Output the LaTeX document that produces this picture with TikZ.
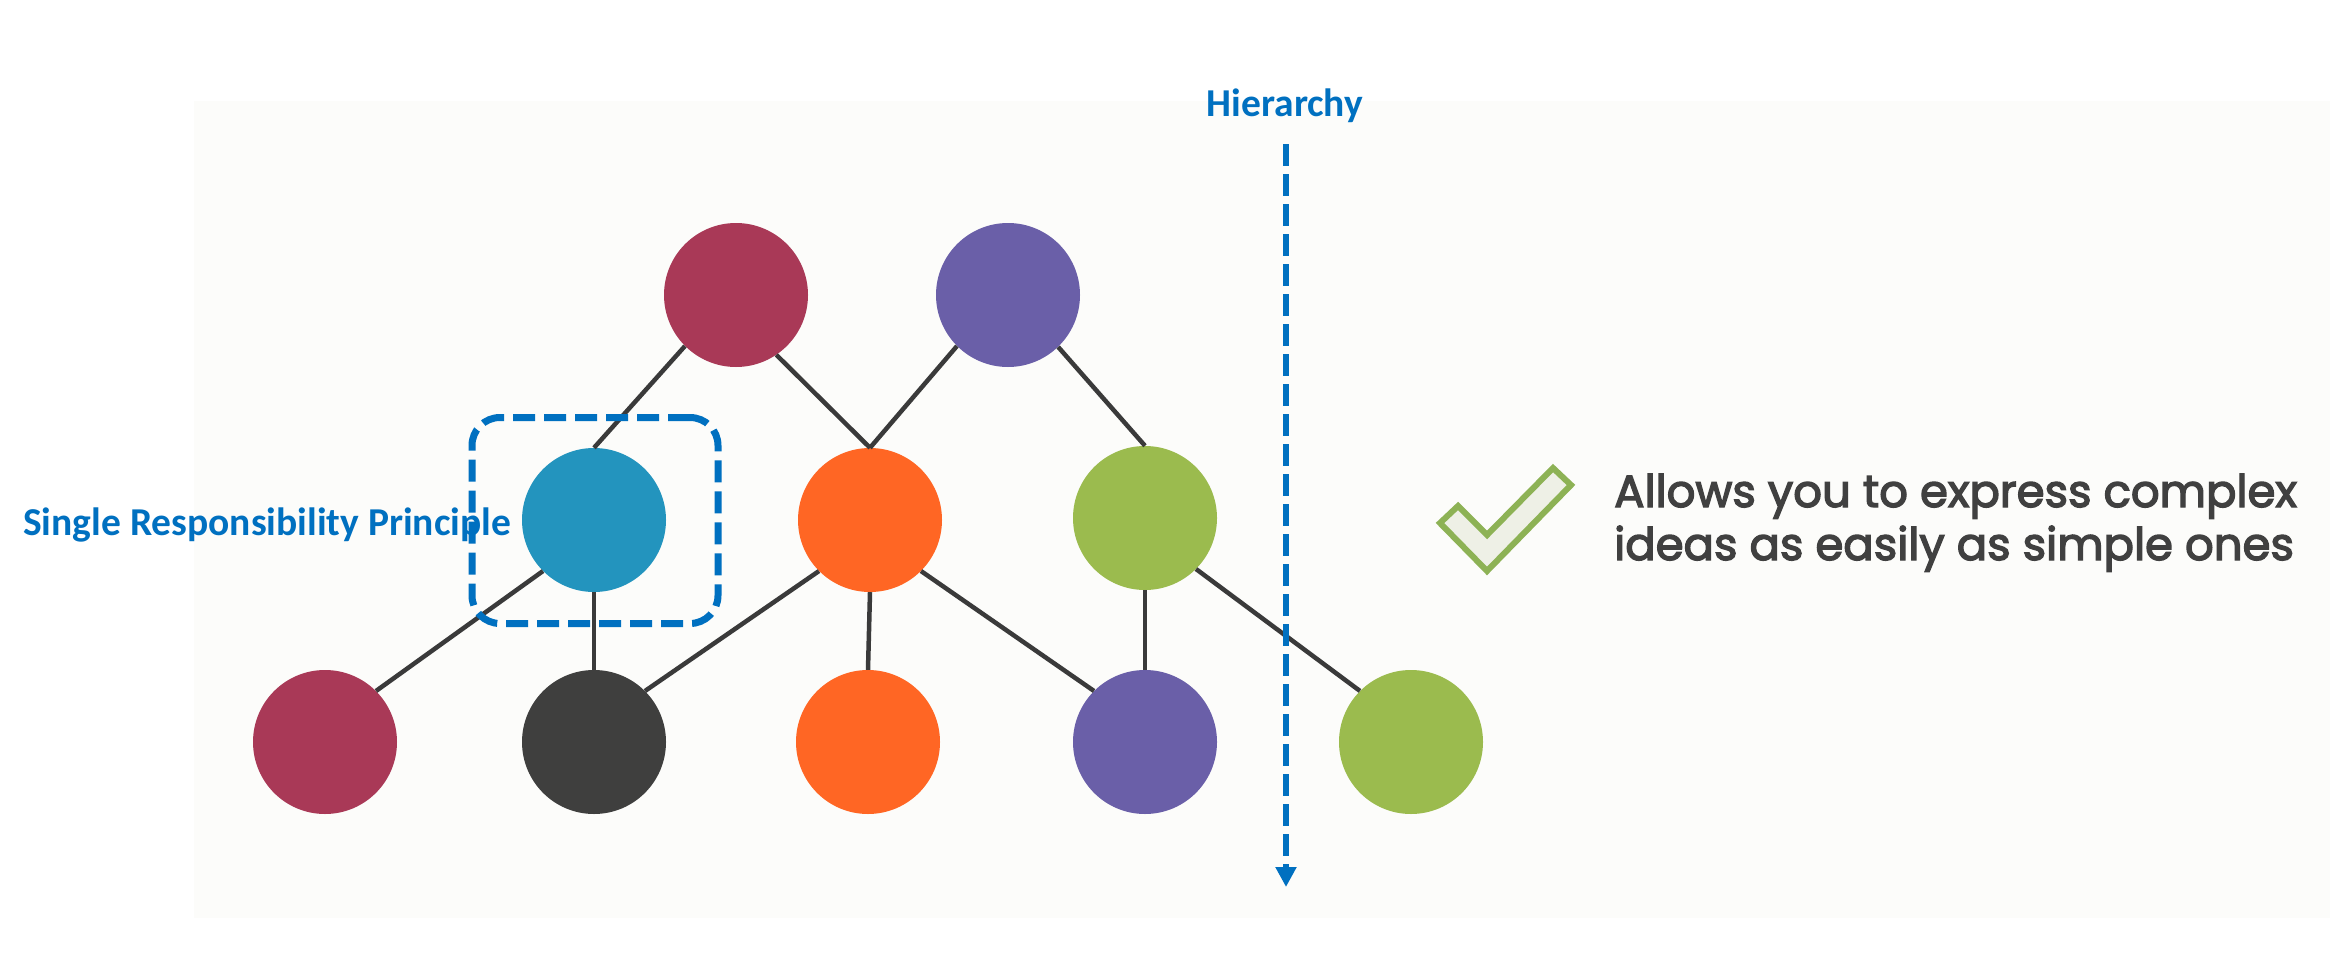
\documentclass[tikz,border=0pt]{standalone}
\usepackage{fontspec}
\newfontfamily\carlito{Carlito}
\newfontfamily\popfont{Poppins}[FakeBold=3]
\usetikzlibrary{arrows.meta}
\definecolor{bgc}{HTML}{FCFCFA}
\definecolor{cmaroon}{HTML}{A93957}
\definecolor{cpurple}{HTML}{6A5FA8}
\definecolor{cblue}{HTML}{2394BE}
\definecolor{corange}{HTML}{FF6624}
\definecolor{cgreen}{HTML}{9BBB4E}
\definecolor{cdark}{HTML}{3F3F3E}
\definecolor{linec}{HTML}{3A3A3A}
\definecolor{accent}{HTML}{0070C0}
\definecolor{chkc}{HTML}{8DB255}
\definecolor{chkf}{HTML}{EEF0E6}
\definecolor{txtc}{HTML}{404040}
\tikzset{
  ball/.style={circle, minimum size=144pt, inner sep=0pt, draw=none, fill=#1},
  link/.style={draw=linec, line width=4.5pt},
  blued/.style={draw=accent, line width=7pt, dash pattern=on 22pt off 9pt},
  lbl/.style={text=accent, inner sep=0pt, font={\carlito\bfseries\fontsize{39.5}{47}\selectfont}},
  body/.style={text=txtc, inner sep=0pt, anchor=base west, font={\popfont\fontsize{45}{54}\selectfont}}
}
\begin{document}
\begin{tikzpicture}[x=1pt,y=-1pt]
\useasboundingbox (0,0) rectangle (2330,974);
\fill[white] (0,0) rectangle (2330,974);
\fill[bgc] (194,101) rectangle (2330,918);
% circles
\node[ball=cmaroon] (tm) at (736,295) {};
\node[ball=cpurple] (tp) at (1008,295) {};
\node[ball=cblue] (mb) at (594,520) {};
\node[ball=corange] (mo) at (870,520) {};
\node[ball=cgreen] (mg) at (1145,518) {};
\node[ball=cmaroon] (bm) at (325,742) {};
\node[ball=cdark] (bd) at (594,742) {};
\node[ball=corange] (bo) at (868,742) {};
\node[ball=cpurple] (bp) at (1145,742) {};
\node[ball=cgreen] (bg) at (1411,742) {};
% links
\draw[link] (tm.-135) -- (mb.north);
\draw[link] (tm.-56) -- (mo.north);
\draw[link] (tp.-135) -- (mo.north);
\draw[link] (tp.-46) -- (mg.north);
\draw[link] (mb.-135) -- (bm.45);
\draw[link] (mb.south) -- (bd.north);
\draw[link] (mo.-135) -- (bd.45);
\draw[link] (mo.south) -- (bo.north);
\draw[link] (mo.-45) -- (bp.135);
\draw[link] (mg.south) -- (bp.north);
\draw[link] (mg.-45) -- (bg.135);
% labels
\node[lbl, anchor=base west] (srp) at (23,535) {Single Responsibility Principle};
\node[lbl, anchor=base] (hier) at (1285,117) {Hierarchy};
% dashed box
\node[blued, rounded corners=28pt, minimum width=246pt, minimum height=206pt, inner sep=0pt] (box) at (595,520.5) {};
% hierarchy arrow
\coordinate (hs) at (1286,144);
\coordinate (he) at (1286,887);
\draw[blued, line width=6pt, dash pattern=on 22pt off 8pt, -{Triangle[length=20pt,width=20pt]}] (hs) -- (he);
% check mark
\draw[draw=chkc, fill=chkf, line width=6pt, line join=miter]
  (1440,523) -- (1458,506) -- (1487,535) -- (1553,468) -- (1571,485) -- (1487,571) -- cycle;
% text
\node[body] (l1) at (1614,507) {Allows you to express complex};
\node[body] (l2) at (1614,560) {ideas as easily as simple ones};
\end{tikzpicture}
\end{document}
